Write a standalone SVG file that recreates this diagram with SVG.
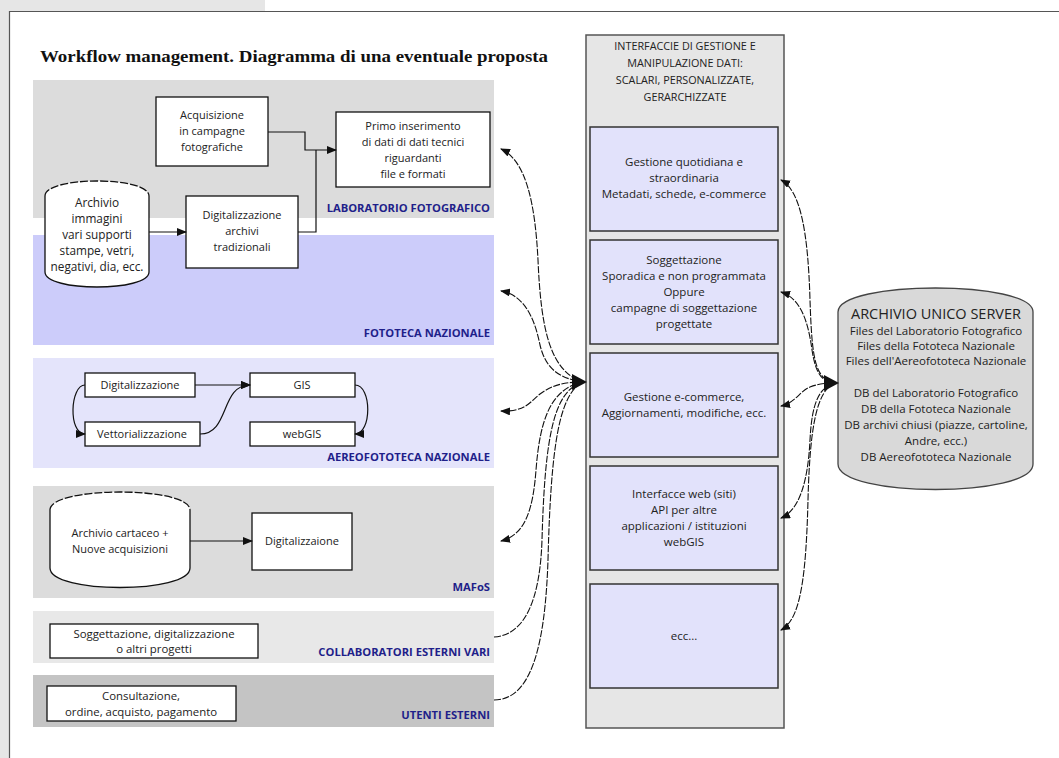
<svg xmlns="http://www.w3.org/2000/svg" width="1059" height="758" viewBox="0 0 1059 758">
<defs>
<style>
.t{font-family:"Open Sans","Liberation Sans",sans-serif;font-size:11px;fill:#222;text-anchor:middle}
.ti{font-size:11.5px}
.th{font-size:10.8px}
.ts{font-size:11.4px}
.tb{font-size:14.5px}
.tc{font-size:11.8px}
.lbl{font-family:"Open Sans","Liberation Sans",sans-serif;font-size:11.2px;font-weight:bold;fill:#1f1f8a;text-anchor:end}
.box{fill:#fff;stroke:#111;stroke-width:1.3}
.ibox{fill:#e2e2fb;stroke:#333;stroke-width:1.5}
.ln{fill:none;stroke:#111;stroke-width:1.2}
.dl{fill:none;stroke:#111;stroke-width:1.1;stroke-dasharray:7,1.5}
</style>
<marker id="ah" viewBox="0 0 10 8" refX="9" refY="4" markerWidth="10" markerHeight="8" markerUnits="userSpaceOnUse" orient="auto-start-reverse">
<path d="M0,0 L10,4 L0,8 z" fill="#111"/>
</marker>
</defs>
<rect x="0" y="0" width="1059" height="758" fill="#fff"/>
<rect x="0" y="0" width="265" height="11" fill="#e6e6e6"/>
<rect x="0" y="0" width="9" height="758" fill="#e6e6e6"/>
<path d="M9.5,758 V11.5 H1059" fill="none" stroke="#555" stroke-width="1.2"/>

<text x="40" y="62" font-family="Liberation Serif, serif" font-weight="bold" font-size="17" fill="#111" textLength="508" lengthAdjust="spacingAndGlyphs">Workflow management. Diagramma di una eventuale proposta</text>

<g id="band-laboratorio">
<rect x="33" y="80" width="461" height="138" fill="#dcdcdc"/>
<text class="lbl" x="490" y="212">LABORATORIO FOTOGRAFICO</text>
</g>
<g id="band-fototeca">
<rect x="33" y="235" width="461" height="110" fill="#ccccfa"/>
<text class="lbl" x="490" y="337">FOTOTECA NAZIONALE</text>
</g>
<g id="band-aereofototeca">
<rect x="33" y="358" width="461" height="110" fill="#e4e4fb"/>
<text class="lbl" x="490" y="461">AEREOFOTOTECA NAZIONALE</text>
</g>
<g id="band-mafos">
<rect x="33" y="486" width="461" height="112" fill="#dcdcdc"/>
<text class="lbl" x="490" y="591">MAFoS</text>
</g>
<g id="band-collaboratori">
<rect x="33" y="611" width="461" height="52" fill="#e8e8e8"/>
<text class="lbl" x="490" y="656">COLLABORATORI ESTERNI VARI</text>
</g>
<g id="band-utenti">
<rect x="33" y="675" width="461" height="52" fill="#c4c4c4"/>
<text class="lbl" x="490" y="719">UTENTI ESTERNI</text>
</g>

<g id="acquisizione">
<rect class="box" x="156" y="97" width="112" height="69"/>
<text class="t" x="212" y="119">Acquisizione</text>
<text class="t" x="212" y="135">in campagne</text>
<text class="t" x="212" y="151">fotografiche</text>
</g>
<g id="primo-inserimento">
<rect class="box" x="336" y="112" width="154" height="75"/>
<text class="t" x="413" y="130">Primo inserimento</text>
<text class="t" x="413" y="146">di dati di dati tecnici</text>
<text class="t" x="413" y="162">riguardanti</text>
<text class="t" x="413" y="178">file e formati</text>
</g>
<g id="archivio-immagini">
<path d="M45,196 C45,176 149,176 149,196 V272 C149,292 45,292 45,272 Z" fill="#fff"/>
<path d="M45,196 C45,176 149,176 149,196" fill="none" stroke="#111" stroke-width="1.3" stroke-dasharray="8,2"/>
<path d="M149,196 V272 C149,292 45,292 45,272 V196" fill="none" stroke="#111" stroke-width="1.3"/>
<text class="t tc" x="97" y="207">Archivio</text>
<text class="t tc" x="97" y="223">immagini</text>
<text class="t tc" x="97" y="239">vari supporti</text>
<text class="t tc" x="97" y="255">stampe, vetri,</text>
<text class="t tc" x="97" y="271">negativi, dia, ecc.</text>
</g>
<g id="digitalizzazione-archivi">
<rect class="box" x="186" y="196" width="112" height="72"/>
<text class="t" x="242" y="219">Digitalizzazione</text>
<text class="t" x="242" y="235">archivi</text>
<text class="t" x="242" y="251">tradizionali</text>
</g>

<g id="aereo-digitalizzazione">
<rect class="box" x="85" y="373" width="110" height="24"/>
<text class="t" x="140" y="389">Digitalizzazione</text>
</g>
<g id="vettorializzazione">
<rect class="box" x="85" y="422" width="115" height="24"/>
<text class="t" x="142" y="438">Vettorializzazione</text>
</g>
<g id="gis">
<rect class="box" x="250" y="373" width="105" height="24"/>
<text class="t" x="302" y="389">GIS</text>
</g>
<g id="webgis">
<rect class="box" x="250" y="422" width="105" height="24"/>
<text class="t" x="302" y="438">webGIS</text>
</g>

<g id="archivio-cartaceo">
<path d="M50,510 C50,486 190,486 190,510 V568 C190,594 50,594 50,568 Z" fill="#fff"/>
<path d="M50,510 C50,486 190,486 190,510" fill="none" stroke="#111" stroke-width="1.3" stroke-dasharray="8,2"/>
<path d="M190,510 V568 C190,594 50,594 50,568 V510" fill="none" stroke="#111" stroke-width="1.3"/>
<text class="t" x="120" y="537">Archivio cartaceo +</text>
<text class="t" x="120" y="553">Nuove acquisizioni</text>
</g>
<g id="mafos-digitalizzaione">
<rect class="box" x="252" y="513" width="100" height="57"/>
<text class="t" x="302" y="545">Digitalizzaione</text>
</g>

<g id="soggettazione-esterni">
<rect class="box" x="50" y="624" width="208" height="34"/>
<text class="t ts" x="154" y="638">Soggettazione, digitalizzazione</text>
<text class="t ts" x="154" y="653">o altri progetti</text>
</g>
<g id="consultazione">
<rect class="box" x="47" y="686" width="189" height="35"/>
<text class="t ts" x="141" y="700">Consultazione,</text>
<text class="t ts" x="141" y="716">ordine, acquisto, pagamento</text>
</g>

<g id="interfacce">
<rect x="586" y="35" width="198" height="693" fill="#e6e6e6" stroke="#555" stroke-width="1.5"/>
<text class="t th" x="685" y="50">INTERFACCIE DI GESTIONE E</text>
<text class="t th" x="685" y="67">MANIPULAZIONE DATI:</text>
<text class="t th" x="685" y="84">SCALARI, PERSONALIZZATE,</text>
<text class="t th" x="685" y="101">GERARCHIZZATE</text>
</g>
<g id="gestione-quotidiana">
<rect class="ibox" x="590" y="127" width="188" height="104"/>
<text class="t ti" x="684" y="166">Gestione quotidiana e</text>
<text class="t ti" x="684" y="182">straordinaria</text>
<text class="t ti" x="684" y="198">Metadati, schede, e-commerce</text>
</g>
<g id="soggettazione">
<rect class="ibox" x="590" y="240" width="188" height="104"/>
<text class="t ti" x="684" y="264">Soggettazione</text>
<text class="t ti" x="684" y="280">Sporadica e non programmata</text>
<text class="t ti" x="684" y="296">Oppure</text>
<text class="t ti" x="684" y="312">campagne di soggettazione</text>
<text class="t ti" x="684" y="328">progettate</text>
</g>
<g id="gestione-ecommerce">
<rect class="ibox" x="590" y="353" width="188" height="104"/>
<text class="t ti" x="684" y="401">Gestione e-commerce,</text>
<text class="t ti" x="684" y="417">Aggiornamenti, modifiche, ecc.</text>
</g>
<g id="interfacce-web">
<rect class="ibox" x="590" y="466" width="188" height="104"/>
<text class="t ti" x="684" y="498">Interfacce web (siti)</text>
<text class="t ti" x="684" y="514">API per altre</text>
<text class="t ti" x="684" y="530">applicazioni / istituzioni</text>
<text class="t ti" x="684" y="546">webGIS</text>
</g>
<g id="ecc">
<rect class="ibox" x="590" y="584" width="188" height="104"/>
<text class="t ti" x="684" y="640">ecc...</text>
</g>

<g id="archivio-unico-server">
<path d="M838,312 C838,280 1033,280 1033,312 V464 C1033,498 838,498 838,464 Z" fill="#d9d9d9" stroke="#444" stroke-width="1.3"/>
<text class="t tb" x="936" y="319">ARCHIVIO UNICO SERVER</text>
<text class="t ti" x="936" y="335">Files del Laboratorio Fotografico</text>
<text class="t ti" x="936" y="350">Files della Fototeca Nazionale</text>
<text class="t ti" x="936" y="365">Files dell'Aereofototeca Nazionale</text>
<text class="t ti" x="936" y="397">DB del Laboratorio Fotografico</text>
<text class="t ti" x="936" y="413">DB della Fototeca Nazionale</text>
<text class="t ti" x="936" y="429">DB archivi chiusi (piazze, cartoline,</text>
<text class="t ti" x="936" y="445">Andre, ecc.)</text>
<text class="t ti" x="936" y="461">DB Aereofototeca Nazionale</text>
</g>

<g id="connectors">
<path class="ln" d="M149,232 H186" marker-end="url(#ah)"/>
<path class="ln" d="M268,132 H305 V150 H336" marker-end="url(#ah)"/>
<path class="ln" d="M298,232 H316 V150"/>
<path class="ln" d="M195,385 H250" marker-end="url(#ah)"/>
<path class="ln" d="M85,385 C70,385 68,434 85,434" marker-end="url(#ah)"/>
<path class="ln" d="M200,434 C230,434 220,385 250,385" marker-end="url(#ah)"/>
<path class="ln" d="M355,385 C372,385 372,434 355,434" marker-end="url(#ah)"/>
<path class="ln" d="M190,541 H252" marker-end="url(#ah)"/>

<path class="dl" d="M501,149 C525,160 535,200 538,260 C541,330 550,370 582,382" marker-start="url(#ah)"/>
<path class="dl" d="M501,291 C525,295 535,320 540,345 C546,370 560,378 582,382" marker-start="url(#ah)"/>
<path class="dl" d="M501,411 C525,412 530,402 540,394 C552,385 565,382 582,382" marker-start="url(#ah)"/>
<path class="dl" d="M501,541 C525,535 533,510 536,470 C540,420 550,390 582,382" marker-start="url(#ah)"/>
<path class="dl" d="M494,637 C525,635 540,600 542,540 C545,430 555,392 582,382"/>
<path class="dl" d="M494,700 C530,700 545,650 548,560 C551,440 560,396 582,382"/>
<polygon points="572,374 587,382 572,390" fill="#111"/>

<path class="dl" d="M781,180 C800,190 808,230 810,300 C812,360 815,378 834,383" marker-start="url(#ah)"/>
<path class="dl" d="M781,292 C800,298 808,320 812,350 C816,375 822,381 834,383" marker-start="url(#ah)"/>
<path class="dl" d="M781,406 C795,403 800,391 810,387 C818,384 825,383 834,383" marker-start="url(#ah)"/>
<path class="dl" d="M781,518 C800,510 808,480 810,440 C812,400 820,388 834,383" marker-start="url(#ah)"/>
<path class="dl" d="M781,630 C800,620 806,580 808,500 C810,420 818,392 834,383" marker-start="url(#ah)"/>
<polygon points="824,375 839,383 824,391" fill="#111"/>
</g>
</svg>
